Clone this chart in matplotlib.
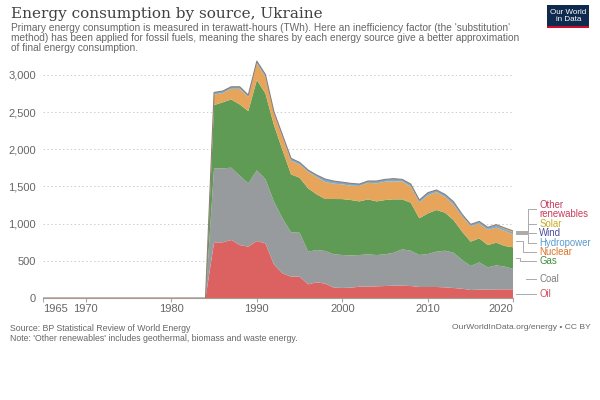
import numpy as np
import matplotlib.pyplot as plt
from matplotlib.patches import Rectangle

plt.rcParams['font.family'] = ['Liberation Sans', 'DejaVu Sans']

# Years covered by the chart; BP data for Ukraine starts in 1985 (zeros before)
years = np.arange(1965, 2021)
first_data_year = 1985

# Primary energy by source, TWh (substitution method), 1985-2020
oil = [748, 748, 780, 712, 690, 766, 735, 452, 332, 287, 287, 184, 211, 193, 139, 135,
       139, 152, 152, 157, 161, 166, 166, 161, 148, 148, 148, 143, 134, 125, 108, 112,
       112, 116, 116, 116]
coal = [995, 995, 972, 932, 851, 950, 864, 843, 739, 596, 591, 439, 434, 439, 448, 443,
        434, 426, 435, 421, 426, 443, 488, 475, 430, 443, 475, 493, 475, 386, 322, 367,
        300, 323, 305, 274]
gas = [851, 887, 918, 959, 972, 1214, 1152, 1030, 918, 779, 739, 851, 748, 699, 744, 752,
       744, 721, 739, 721, 730, 717, 672, 645, 493, 547, 560, 511, 439, 381, 327, 323,
       300, 305, 278, 291]
nuclear = [141, 126, 142, 210, 190, 226, 224, 159, 175, 183, 179, 222, 234, 227, 207, 197,
           193, 208, 222, 243, 246, 244, 241, 220, 214, 243, 240, 215, 206, 205, 209, 198,
           205, 202, 203, 172]
hydro = [28, 25, 27, 26, 24, 28, 30, 19, 26, 31, 26, 23, 25, 40, 33, 29,
         30, 24, 24, 30, 31, 33, 26, 29, 30, 33, 27, 27, 35, 22, 17, 23,
         26, 30, 19, 19]
wind = [0, 0, 0, 0, 0, 0, 0, 0, 0, 0, 0, 0, 0, 0, 0, 0,
        0, 0, 0, 0, 0, 0, 0, 0, 0, 0, 0.2, 0.8, 1.6, 2.8, 2.7, 2.3,
        2.3, 3.0, 5.2, 8.2]
solar = [0, 0, 0, 0, 0, 0, 0, 0, 0, 0, 0, 0, 0, 0, 0, 0,
         0, 0, 0, 0, 0, 0, 0, 0, 0, 0, 0.1, 0.9, 1.4, 1.0, 1.2, 1.2,
         1.9, 3.4, 11, 15.3]
other = [1, 1, 1, 1, 1, 1, 1, 1, 1, 1, 1, 1, 1, 1, 1, 1,
         1, 1, 1, 1, 1, 1.5, 1.5, 2, 2, 2, 2, 2.5, 2.5, 2.5, 3, 3,
         3, 3.5, 4, 4]

sources = ["Oil", "Coal", "Gas", "Nuclear", "Hydropower", "Wind", "Solar", "Other renewables"]
fill_colors = ["#dc6262", "#979b9e", "#609b55", "#e6a55b", "#77abcf", "#5a5aa8", "#dcc04a", "#cf4a63"]
label_colors = ["#d54b5b", "#7d7d7d", "#3f8f3f", "#e07124", "#5a9ad0", "#4a4aa0", "#c4ac20", "#c93b5a"]
# label heights (TWh) after de-overlapping, and connector geometry (years)
label_y = [54, 255, 497, 618, 746, 872, 996, 1192]
line_start = [2020.35, 2021.5, 2020.35, 2020.35, 2020.35, 2020.35, 2020.35, 2020.35]
elbow_x = [2021.6, 2021.6, 2020.8, 2021.1, 2021.7, 2021.7, 2021.7, 2021.7]

n_pad = first_data_year - years[0]
series = [np.concatenate([np.zeros(n_pad), np.array(s, dtype=float)])
          for s in [oil, coal, gas, nuclear, hydro, wind, solar, other]]
stack = np.vstack(series)
total = stack.sum(axis=0)

fig = plt.figure(figsize=(6, 4), dpi=100)
ax = fig.add_axes([0.0717, 0.255, 0.784, 0.595])

ax.stackplot(years, stack, colors=fill_colors, linewidth=0)
ax.plot(years, total, color="#8c8079", linewidth=0.8)

ax.set_xlim(1965, 2020)
ax.set_ylim(0, 3200)
ax.set_yticks([0, 500, 1000, 1500, 2000, 2500, 3000])
ax.set_yticklabels(["0", "500", "1,000", "1,500", "2,000", "2,500", "3,000"])
ax.set_xticks([1965, 1970, 1980, 1990, 2000, 2010, 2020])
ax.tick_params(axis="y", length=0, labelsize=8, labelcolor="#666666", pad=5)
ax.tick_params(axis="x", length=3, color="#aaaaaa", labelsize=8, labelcolor="#666666", pad=1.5)
xlabels = ax.get_xticklabels()
xlabels[0].set_horizontalalignment("left")
xlabels[-1].set_horizontalalignment("right")
ax.grid(axis="y", linestyle=(0, (1.5, 2.5)), color="#cccccc", linewidth=0.7)
ax.set_axisbelow(True)
for side in ["top", "right", "left"]:
    ax.spines[side].set_visible(False)
ax.spines["bottom"].set_color("#a89a90")
ax.spines["bottom"].set_linewidth(0.8)

# right-hand labels with connector lines
cum = np.cumsum(stack[:, -1])
mids = cum - stack[:, -1] / 2
x_end = years[-1]
for i, name in enumerate(sources):
    xs = [line_start[i], elbow_x[i], elbow_x[i], x_end + 2.65]
    ys = [mids[i], mids[i], label_y[i], label_y[i]]
    ax.plot(xs, ys, color="#aaaaaa", linewidth=0.7, clip_on=False)
    txt = "Other\nrenewables" if name == "Other renewables" else name
    ax.text(x_end + 3.0, label_y[i], txt, color=label_colors[i], fontsize=6.9,
            va="center", ha="left", linespacing=0.92, clip_on=False)

# title, subtitle
fig.text(0.018, 0.955, "Energy consumption by source, Ukraine", family=["DejaVu Serif"],
         fontsize=11, color="#404040", va="baseline", ha="left")
fig.text(0.018, 0.943,
         "Primary energy consumption is measured in terawatt-hours (TWh). Here an inefficiency factor (the 'substitution'\n"
         "method) has been applied for fossil fuels, meaning the shares by each energy source give a better approximation\n"
         "of final energy consumption.",
         fontsize=7.25, color="#666666", va="top", ha="left", linespacing=1.03)

# logo
fig.patches.append(Rectangle((0.912, 0.935), 0.07, 0.0525, transform=fig.transFigure,
                             facecolor="#0f2a4f", edgecolor="none"))
fig.patches.append(Rectangle((0.912, 0.931), 0.07, 0.005, transform=fig.transFigure,
                             facecolor="#c8102e", edgecolor="none"))
fig.text(0.947, 0.961, "Our World\nin Data", color="white", fontsize=5.8, ha="center",
         va="center", linespacing=1.0)

# footer
fig.text(0.017, 0.189, "Source: BP Statistical Review of World Energy\n"
         "Note: 'Other renewables' includes geothermal, biomass and waste energy.",
         fontsize=6.35, color="#666666", va="top", ha="left", linespacing=1.05)
fig.text(0.984, 0.189, "OurWorldInData.org/energy • CC BY", fontsize=6.1, color="#666666",
         va="top", ha="right")

fig.savefig("out.png", dpi=100, facecolor="white")
